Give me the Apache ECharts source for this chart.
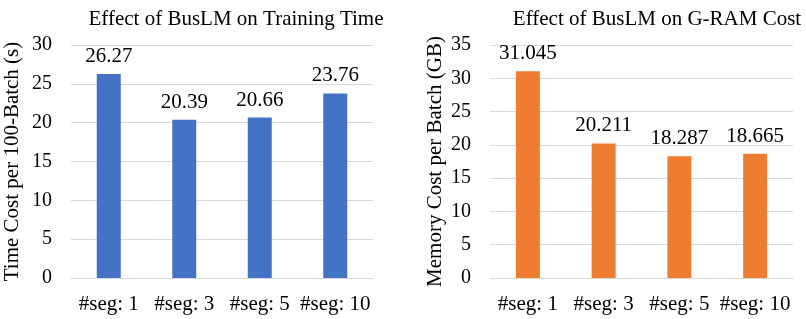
<!DOCTYPE html>
<html>
<head>
<meta charset="utf-8">
<script src="https://cdn.jsdelivr.net/npm/echarts@6/dist/echarts.min.js"></script>
<style>
html,body{margin:0;padding:0;background:#fff;}
#c{width:806px;height:319px;}
</style>
</head>
<body>
<div id="c"></div>
<script>
var categories = ['#seg: 1', '#seg: 3', '#seg: 5', '#seg: 10'];
var timeValues = [26.27, 20.39, 20.66, 23.76];
var memValues = [31.045, 20.211, 18.287, 18.665];
var timeTitle = 'Effect of BusLM on Training Time';
var memTitle = 'Effect of BusLM on G-RAM Cost';
var timeAxisName = 'Time Cost per 100-Batch (s)';
var memAxisName = 'Memory Cost per Batch (GB)';

var FONT = '"Liberation Serif", "Times New Roman", serif';
var TXT = '#000';
var GRID = '#d9d9d9';

function xAxis(gi) {
  return {
    type: 'category', gridIndex: gi, data: categories,
    axisLine: {show: true, lineStyle: {color: GRID, width: 1}},
    axisTick: {show: false},
    axisLabel: {color: TXT, fontFamily: FONT, fontSize: 21, margin: 16, interval: 0, hideOverlap: false}
  };
}
function yAxis(gi, max, name, gap) {
  return {
    type: 'value', gridIndex: gi, min: 0, max: max, interval: 5,
    name: name, nameLocation: 'middle', nameRotate: 90, nameGap: gap,
    nameTextStyle: {color: TXT, fontFamily: FONT, fontSize: 21},
    axisLine: {show: false}, axisTick: {show: false},
    axisLabel: {color: TXT, fontFamily: FONT, fontSize: 20, margin: 19},
    splitLine: {show: true, lineStyle: {color: GRID, width: 1}}
  };
}
function series(gi, data, color) {
  return {
    type: 'bar', xAxisIndex: gi, yAxisIndex: gi, data: data, barWidth: 24,
    itemStyle: {color: color},
    label: {show: true, position: 'top', distance: 7, color: TXT, fontFamily: FONT, fontSize: 21},
    animation: false
  };
}

var chart = echarts.init(document.getElementById('c'), null, {renderer: 'canvas'});
chart.setOption({
  backgroundColor: '#fff',
  animation: false,
  title: [
    {text: timeTitle, left: 231, top: 4, textAlign: 'center',
     textStyle: {color: TXT, fontFamily: FONT, fontSize: 21, fontWeight: 'normal'}},
    {text: memTitle, left: 652, top: 4, textAlign: 'center',
     textStyle: {color: TXT, fontFamily: FONT, fontSize: 21, fontWeight: 'normal'}}
  ],
  grid: [
    {left: 71, right: 433, top: 45, bottom: 41},
    {left: 490, right: 13, top: 45, bottom: 41}
  ],
  xAxis: [xAxis(0), xAxis(1)],
  yAxis: [yAxis(0, 30, timeAxisName, 48), yAxis(1, 35, memAxisName, 44)],
  series: [series(0, timeValues, '#4472c4'), series(1, memValues, '#ed7d31')]
});
</script>
</body>
</html>
